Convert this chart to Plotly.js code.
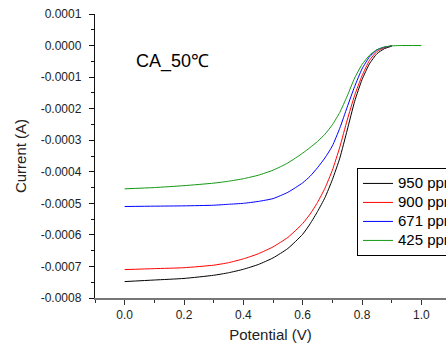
<!DOCTYPE html>
<html>
<head>
<meta charset="utf-8">
<script src="https://cdn.plot.ly/plotly-3.0.1.min.js"></script>
<style>html,body{margin:0;padding:0;background:#fff;}#chart{width:446px;height:343px;}</style>
</head>
<body>
<div id="chart"></div>
<script>
// Series names
var seriesNames = ["950 ppm", "900 ppm", "671 ppm", "425 ppm"];

// Potential (V) values
var potentialShared = [0.000, 0.100, 0.200, 0.300, 0.350, 0.400, 0.450, 0.500, 0.550, 0.600, 0.625, 0.650, 0.675, 0.700, 0.725, 0.750, 0.775, 0.800, 0.825, 0.850, 0.875, 0.900];
var potential425 = [0.000, 0.100, 0.200, 0.300, 0.350, 0.400, 0.450, 0.500, 0.550, 0.600, 0.625, 0.650, 0.675, 0.700, 0.725, 0.750, 0.775, 0.800, 0.825, 0.850, 0.875, 0.900, 0.925, 1.000];

// Current (A) values
var current950 = [-0.000748, -0.000743, -0.000738, -0.000728, -0.000720, -0.000709, -0.000694, -0.000673, -0.000643, -0.000598, -0.000565, -0.000526, -0.000482, -0.000425, -0.000357, -0.000268, -0.000177, -0.000108, -0.000058, -0.000026, -0.000010, -0.000002];
var current900 = [-0.000710, -0.000707, -0.000704, -0.000696, -0.000688, -0.000676, -0.000660, -0.000638, -0.000608, -0.000564, -0.000534, -0.000497, -0.000452, -0.000395, -0.000322, -0.000236, -0.000158, -0.000096, -0.000047, -0.000019, -0.000007, -0.000001];
var current671 = [-0.000510, -0.000509, -0.000508, -0.000506, -0.000503, -0.000500, -0.000494, -0.000485, -0.000465, -0.000435, -0.000414, -0.000387, -0.000356, -0.000318, -0.000262, -0.000195, -0.000130, -0.000074, -0.000036, -0.000014, -0.000005, -0.000001];
var current425 = [-0.000454, -0.000450, -0.000444, -0.000436, -0.000430, -0.000422, -0.000411, -0.000395, -0.000372, -0.000341, -0.000323, -0.000304, -0.000281, -0.000251, -0.000212, -0.000160, -0.000103, -0.000060, -0.000031, -0.000013, -0.000005, -0.000001, 0.000000, 0.000000];

// Tick labels
var xTickVals = [0.0, 0.2, 0.4, 0.6, 0.8, 1.0];
var xTickText = ["0.0", "0.2", "0.4", "0.6", "0.8", "1.0"];
var yTickVals = [0.0001, 0.0, -0.0001, -0.0002, -0.0003, -0.0004, -0.0005, -0.0006, -0.0007, -0.0008];
var yTickText = ["0.0001", "0.0000", "-0.0001", "-0.0002", "-0.0003", "-0.0004", "-0.0005", "-0.0006", "-0.0007", "-0.0008"];

var colors = ["#000000", "#ff0000", "#0000ff", "#119911"];
var xs = [potentialShared, potentialShared, potentialShared, potential425];
var ys = [current950, current900, current671, current425];

var traces = seriesNames.map(function (n, i) {
  return {
    type: "scatter", mode: "lines",
    name: '<span style="font-size:15px">' + n + '</span>',
    x: xs[i], y: ys[i],
    line: {color: colors[i], width: 1, shape: "spline", smoothing: 0.5}
  };
});

var font = "Liberation Sans, Arial, sans-serif";
var layout = {
  width: 446, height: 343,
  margin: {l: 95, r: 0, t: 14, b: 45, autoexpand: false},
  paper_bgcolor: "#fff", plot_bgcolor: "#fff",
  font: {family: font, size: 12, color: "#222"},
  showlegend: true,
  xaxis: {
    range: [-0.1, 1.083], tickmode: "array", tickvals: xTickVals, ticktext: xTickText,
    ticks: "outside", ticklen: 5, tickcolor: "#333", tickwidth: 1,
    showline: true, linecolor: "#777", linewidth: 1.5,
    showgrid: false, zeroline: false,
    minor: {ticks: "outside", tickmode: "linear", tick0: 0, dtick: 0.1, ticklen: 3, tickcolor: "#333", showgrid: false},
    tickfont: {size: 12, color: "#222"},
    title: {text: "Potential (V)", font: {size: 15, color: "#222"}, standoff: 8}
  },
  yaxis: {
    range: [-0.0008, 0.0001], tickmode: "array", tickvals: yTickVals, ticktext: yTickText,
    ticks: "outside", ticklen: 5, tickcolor: "#111", tickwidth: 1,
    ticklabelstandoff: 5,
    showline: true, linecolor: "#111", linewidth: 1.2,
    showgrid: false, zeroline: false,
    minor: {ticks: "outside", tickmode: "linear", tick0: 0, dtick: 0.00005, ticklen: 3, tickcolor: "#111", showgrid: false},
    tickfont: {size: 12, color: "#222"},
    title: {text: "Current (A)", font: {size: 15, color: "#222"}, standoff: 10}
  },
  legend: {
    x: 0.7464, y: 0.458, xanchor: "left", yanchor: "top",
    bgcolor: "#fff", bordercolor: "#000", borderwidth: 1,
    font: {size: 11.3, color: "#000", family: font},
    tracegroupgap: 0
  },
  annotations: [{
    xref: "paper", yref: "paper", x: 0.221, y: 0.831, xanchor: "center", yanchor: "middle",
    text: "CA_50℃", showarrow: false,
    font: {family: "Liberation Sans Narrow, Arial Narrow, Liberation Sans, sans-serif", size: 18, color: "#000"}
  }]
};

Plotly.newPlot("chart", traces, layout, {staticPlot: true, displayModeBar: false});
</script>
</body>
</html>
